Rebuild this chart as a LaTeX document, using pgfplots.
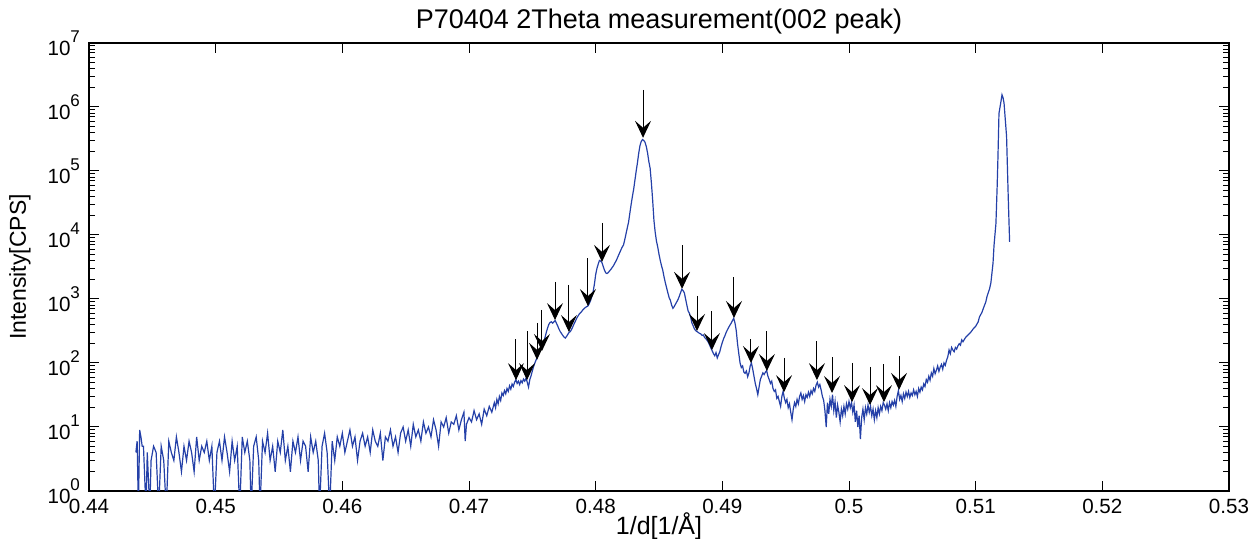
\documentclass[border=0pt]{standalone}
\usepackage{pgfplots}
\pgfplotsset{compat=1.18}
\usepackage{fontspec}
\setmainfont{Liberation Sans}
\usetikzlibrary{arrows.meta}
\definecolor{mblue}{RGB}{36,64,168}
\newcommand\ex[1]{10\raisebox{0.62em}{\fontsize{8.5}{8.5}\selectfont #1}}
\begin{document}
\begin{tikzpicture}
\begin{axis}[
  scale only axis, width=570pt, height=224pt,
  xmin=0.44, xmax=0.53, ymode=log, ymin=1, ymax=1e7,
  xtick={0.44,0.45,0.46,0.47,0.48,0.49,0.5,0.51,0.52,0.53},
  xticklabels={0.44,0.45,0.46,0.47,0.48,0.49,0.5,0.51,0.52,0.53},
  ytick={1,10,100,1000,10000,100000,1000000,10000000},
  yticklabels={\ex{0},\ex{1},\ex{2},\ex{3},\ex{4},\ex{5},\ex{6},\ex{7}},
  tick align=inside, major tick length=5pt, minor tick length=3pt,
  axis line style={line width=0.6pt},
  every tick/.style={black, line width=0.5pt},
  tick label style={font=\fontsize{10.3}{12}\selectfont},
  xticklabel style={yshift=-0.5pt},
  yticklabel style={xshift=-1pt},
  title={P70404 2Theta measurement(002 peak)},
  title style={font=\fontsize{13.5}{15}\selectfont, at={(axis description cs:0.5,1)}, anchor=center, yshift=4.5pt},
  xlabel={1/d[1/Å]},
  xlabel style={font=\fontsize{12.5}{14}\selectfont, at={(axis description cs:0.5,0)}, anchor=center, yshift=-17.4pt},
  ylabel={Intensity[CPS]},
  ylabel style={font=\fontsize{11.5}{13}\selectfont, at={(axis description cs:0,0.5)}, anchor=center, yshift=34.5pt},
  clip=true,
]
\addplot[mblue, line width=0.6pt] coordinates {
(0.4437,4) (0.4438,6) (0.4439,0.5) (0.4440,9) (0.4441,7) (0.4442,5) (0.4443,5) (0.4445,0.5) (0.4446,4) (0.4448,0.5)
(0.4449,3) (0.4451,5) (0.4453,4) (0.4455,0.5) (0.4457,5) (0.4459,3) (0.4461,0.5) (0.4463,6) (0.4465,4) (0.4467,3)
(0.4469,7) (0.4471,4) (0.4473,2) (0.4475,5) (0.4477,3) (0.4479,6) (0.4481,4) (0.4483,2) (0.4485,7) (0.4487,3)
(0.4489,5) (0.4491,4) (0.4493,6) (0.4495,3) (0.4497,5) (0.4499,0.5) (0.4501,4) (0.4503,6) (0.4505,3) (0.4507,7)
(0.4509,4) (0.4511,2) (0.4513,6) (0.4515,3) (0.4517,5) (0.4519,0.5) (0.4521,7) (0.4523,4) (0.4525,6) (0.4527,3)
(0.4528,0.5) (0.4530,5) (0.4532,7) (0.4534,3) (0.4535,0.5) (0.4537,6) (0.4539,4) (0.4541,8) (0.4543,3) (0.4545,5)
(0.4547,2) (0.4549,6) (0.4551,4) (0.4553,9) (0.4555,3) (0.4557,5) (0.4559,2) (0.4561,6) (0.4563,4) (0.4565,7)
(0.4567,3) (0.4569,6) (0.4571,5) (0.4573,2) (0.4575,7) (0.4577,4) (0.4579,6) (0.4581,3) (0.4582,0.5) (0.4584,5)
(0.4586,8) (0.4588,4) (0.4590,0.5) (0.4592,6) (0.4594,3) (0.4596,7) (0.4598,5) (0.4600,8) (0.4602,4) (0.4604,6)
(0.4606,9) (0.4608,5) (0.4610,7) (0.4612,3) (0.4614,6) (0.4616,8) (0.4618,5) (0.4620,7) (0.4622,4) (0.4624,9)
(0.4626,6) (0.4628,5) (0.4630,8) (0.4632,3) (0.4634,7) (0.4636,6) (0.4638,9) (0.4640,5) (0.4642,7) (0.4644,4)
(0.4646,8) (0.4648,10) (0.4650,6) (0.4652,9) (0.4654,5) (0.4656,11) (0.4658,7) (0.4660,9) (0.4662,6) (0.4664,12)
(0.4666,8) (0.4668,10) (0.4670,7) (0.4672,13) (0.4674,9) (0.4676,5) (0.4678,12) (0.4680,10) (0.4682,14) (0.4684,8)
(0.4686,12) (0.4688,11) (0.4690,15) (0.4692,9) (0.4694,13) (0.4696,17) (0.4697,6) (0.4698,11) (0.4700,14) (0.4702,12)
(0.4704,18) (0.4706,13) (0.4708,16) (0.4710,11) (0.4712,19) (0.4714,15) (0.4716,21) (0.4718,17)
(0.4720,24) (0.4721,20) (0.4722,27) (0.4723,23) (0.4724,30) (0.4725,26) (0.4726,34) (0.4727,31) (0.4728,37) (0.4729,33)
(0.4730,40) (0.4731,36) (0.4732,44) (0.4733,39) (0.4734,47) (0.4735,43) (0.4736,50) (0.4737,55) (0.4738,48) (0.4739,52)
(0.4740,46) (0.4741,53) (0.4742,49) (0.4743,56) (0.4744,52) (0.4745,58) (0.4746,50) (0.4747,42) (0.4748,55) (0.4749,63)
(0.4750,75) (0.4751,88) (0.4752,100) (0.4753,112) (0.4754,125) (0.4755,140) (0.4756,155) (0.4757,170) (0.4758,190) (0.4759,215)
(0.4760,250) (0.4761,300) (0.4762,350) (0.4763,400) (0.4764,430) (0.4765,440) (0.4766,420) (0.4767,440) (0.4768,460) (0.4769,420)
(0.4770,380) (0.4771,340) (0.4772,310) (0.4773,290) (0.4774,270) (0.4775,255) (0.4776,245) (0.4777,260) (0.4778,280) (0.4779,300)
(0.4780,310) (0.4781,335) (0.4782,370) (0.4783,410) (0.4784,450) (0.4785,500) (0.4786,540) (0.4787,580) (0.4788,610) (0.4789,640)
(0.4790,680) (0.4791,710) (0.4792,740) (0.4793,760) (0.4794,780) (0.4795,850) (0.4796,950) (0.4797,1100) (0.4798,1300) (0.4799,1700)
(0.4800,2400) (0.4801,3000) (0.4802,3500) (0.4803,4000) (0.4804,3900) (0.4805,3700) (0.4806,3200) (0.4807,2800) (0.4808,2550) (0.4809,2500)
(0.4810,2600) (0.4811,2750) (0.4812,2900) (0.4813,3100) (0.4814,3300) (0.4815,3600) (0.4816,3900) (0.4817,4300) (0.4818,4800) (0.4819,5300)
(0.4820,5900) (0.4821,6500) (0.4822,7000) (0.4823,8500) (0.4824,10500) (0.4825,13000) (0.4826,16000) (0.4827,22000) (0.4828,30000) (0.4829,40000)
(0.4830,52000) (0.4831,72000) (0.4832,100000) (0.4833,135000) (0.4834,190000) (0.4835,250000) (0.4836,290000) (0.4837,310000) (0.4838,300000) (0.4839,280000)
(0.4840,240000) (0.4841,190000) (0.4842,140000) (0.4843,110000) (0.4844,65000) (0.4845,35000) (0.4846,17000) (0.4847,11000) (0.4848,8000) (0.4849,6500)
(0.4850,5000) (0.4851,4000) (0.4852,3300) (0.4853,2800) (0.4854,2200) (0.4855,1800) (0.4856,1500) (0.4857,1250) (0.4858,1050) (0.4859,950)
(0.4860,800) (0.4861,715) (0.4862,760) (0.4863,830) (0.4864,900) (0.4865,980) (0.4866,1100) (0.4867,1250) (0.4868,1420) (0.4869,1350)
(0.4870,1250) (0.4871,1000) (0.4872,800) (0.4873,650) (0.4874,600) (0.4875,520) (0.4876,420) (0.4877,380) (0.4878,340) (0.4879,320)
(0.4880,310) (0.4881,300) (0.4882,290) (0.4883,285) (0.4884,270) (0.4885,274) (0.4886,250) (0.4887,240) (0.4888,225) (0.4889,210)
(0.4890,190) (0.4891,170) (0.4892,155) (0.4893,140) (0.4894,130) (0.4895,145) (0.4896,120) (0.4897,135) (0.4898,150) (0.4899,180)
(0.4900,210) (0.4901,240) (0.4902,265) (0.4903,300) (0.4904,330) (0.4905,360) (0.4906,390) (0.4907,420) (0.4908,460) (0.4909,500)
(0.4910,420) (0.4911,320) (0.4912,200) (0.4913,140) (0.4914,100) (0.4915,85) (0.4916,90) (0.4917,72) (0.4918,69) (0.4919,75)
(0.4920,61) (0.4921,70) (0.4922,90) (0.4923,100) (0.4924,80) (0.4925,62) (0.4926,48) (0.4927,40) (0.4928,32) (0.4929,42)
(0.4930,55) (0.4931,62) (0.4932,70) (0.4933,66) (0.4934,72) (0.4935,76) (0.4936,62) (0.4937,55) (0.4938,48) (0.4939,52)
(0.4940,40) (0.4941,36) (0.4942,38) (0.4943,28) (0.4944,30) (0.4945,25) (0.4946,21) (0.4947,30) (0.4948,36) (0.4949,28)
(0.4950,24) (0.4951,27) (0.4952,20) (0.4953,23) (0.4954,17) (0.4955,13) (0.4956,19) (0.4957,24) (0.4958,21) (0.4959,27)
(0.4960,23) (0.4961,30) (0.4962,34) (0.4963,27) (0.4964,31) (0.4965,25) (0.4966,32) (0.4967,29) (0.4968,35) (0.4969,30)
(0.4970,37) (0.4971,33) (0.4972,40) (0.4973,36) (0.4974,45) (0.4975,50) (0.4976,42) (0.4977,46) (0.4978,38) (0.4979,30)
(0.4980,26) (0.4981,18) (0.4982,10) (0.4983,24) (0.4984,16) (0.4985,27) (0.4986,21) (0.4987,32) (0.4988,18) (0.4989,25)
(0.4990,14) (0.4991,22) (0.4992,17) (0.4993,12) (0.4994,19) (0.4995,15) (0.4996,21) (0.4997,16) (0.4998,23) (0.4999,19)
(0.5000,25) (0.5001,20) (0.5002,24) (0.5003,17) (0.5004,22) (0.5005,12) (0.5006,18) (0.5007,10) (0.5008,15) (0.5009,6.5)
(0.5010,14) (0.5011,19) (0.5012,13) (0.5013,20) (0.5014,16) (0.5015,22) (0.5016,17) (0.5017,21) (0.5018,15) (0.5019,19)
(0.5020,13) (0.5021,18) (0.5022,14) (0.5023,20) (0.5024,16) (0.5025,21) (0.5026,18) (0.5027,24) (0.5028,22) (0.5029,19)
(0.5030,23) (0.5031,18) (0.5032,24) (0.5033,20) (0.5034,25) (0.5035,22) (0.5036,26) (0.5037,21) (0.5038,30) (0.5039,37)
(0.5040,27) (0.5041,31) (0.5042,25) (0.5043,33) (0.5044,28) (0.5045,35) (0.5046,30) (0.5047,36) (0.5048,29) (0.5049,34)
(0.5050,31) (0.5051,38) (0.5052,32) (0.5053,36) (0.5054,30) (0.5055,40) (0.5056,35) (0.5057,42) (0.5058,38) (0.5059,47)
(0.5060,43) (0.5061,55) (0.5062,50) (0.5063,62) (0.5064,54) (0.5065,70) (0.5066,62) (0.5067,82) (0.5068,68) (0.5069,77)
(0.5070,90) (0.5071,74) (0.5072,86) (0.5073,95) (0.5074,80) (0.5075,100) (0.5076,92) (0.5077,110) (0.5078,125) (0.5079,160)
(0.5080,140) (0.5081,175) (0.5082,160) (0.5083,150) (0.5084,175) (0.5085,165) (0.5086,185) (0.5087,200) (0.5088,190) (0.5089,230)
(0.5090,215) (0.5092,250) (0.5094,275) (0.5096,300) (0.5098,340) (0.5100,375) (0.5102,440) (0.5103,525) (0.5105,620) (0.5106,708)
(0.5108,900) (0.5109,1100) (0.5111,1450) (0.5112,1780) (0.51137,3630) (0.51145,6900) (0.51160,15100) (0.51170,60000) (0.51176,166000) (0.51184,794000)
(0.51196,1100000) (0.51208,1550000) (0.51216,1400000) (0.51224,1150000) (0.51244,347000) (0.51257,40000) (0.51268,7800)
};
\pgfplotsset{arr/.style={black, line width=0.5pt, -{Stealth[length=8.5pt,width=8pt,inset=3.5pt]}}}
\addplot[arr] coordinates {(0.47371,237) (0.47371,54)};
\addplot[arr] coordinates {(0.47458,316) (0.47458,54)};
\addplot[arr] coordinates {(0.47537,422) (0.47537,112)};
\addplot[arr] coordinates {(0.47576,676) (0.47576,154)};
\addplot[arr] coordinates {(0.47679,1850) (0.47679,468)};
\addplot[arr] coordinates {(0.47789,1660) (0.47789,305)};
\addplot[arr] coordinates {(0.47939,4370) (0.47939,776)};
\addplot[arr] coordinates {(0.48050,15500) (0.48050,3800)};
\addplot[arr] coordinates {(0.48374,1850000) (0.48374,330000)};
\addplot[arr] coordinates {(0.48682,6950) (0.48682,1440)};
\addplot[arr] coordinates {(0.48800,1120) (0.48800,316)};
\addplot[arr] coordinates {(0.48918,648) (0.48918,159)};
\addplot[arr] coordinates {(0.49092,2200) (0.49092,505)};
\addplot[arr] coordinates {(0.49226,237) (0.49226,100)};
\addplot[arr] coordinates {(0.49352,316) (0.49352,75)};
\addplot[arr] coordinates {(0.49487,120) (0.49487,35)};
\addplot[arr] coordinates {(0.49747,219) (0.49747,54)};
\addplot[arr] coordinates {(0.49866,124) (0.49866,34)};
\addplot[arr] coordinates {(0.50024,100) (0.50024,24.5)};
\addplot[arr] coordinates {(0.50166,87) (0.50166,22)};
\addplot[arr] coordinates {(0.50276,96) (0.50276,24.5)};
\addplot[arr] coordinates {(0.50395,129) (0.50395,38)};
\end{axis}
\pgfresetboundingbox
\path[use as bounding box] ([shift={(-44.5pt,-24pt)}]current axis.south west) rectangle ([shift={(12.5pt,21.5pt)}]current axis.north east);
\end{tikzpicture}
\end{document}
